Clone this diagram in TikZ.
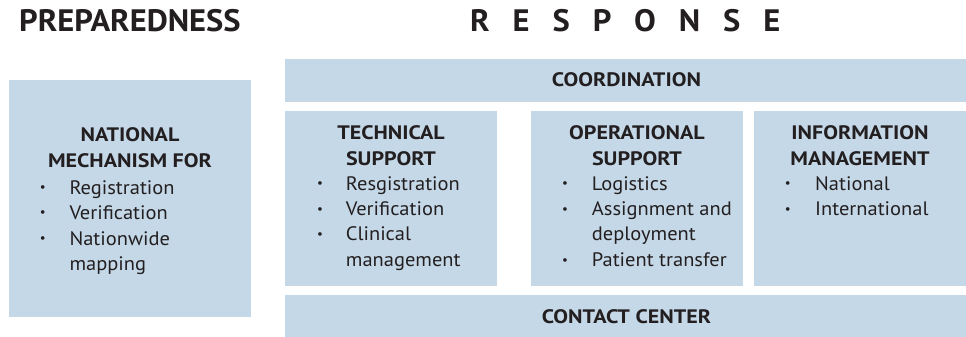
\documentclass[tikz,border=0pt]{standalone}
\usepackage{fontspec}
\setmainfont{PT Sans}
\newfontfamily\regfont{PT Sans}[FakeStretch=1.05]
\newfontfamily\ttlfont{PT Sans}[FakeStretch=1.13]
\newfontfamily\headfont{PT Sans}[FakeStretch=1.05]
\definecolor{boxblue}{RGB}{197,216,232}
\definecolor{ink}{RGB}{35,31,32}
\tikzset{
  box/.style={fill=boxblue, draw=none, inner sep=0pt, outer sep=0pt, anchor=north west},
  head/.style={font=\headfont\fontsize{31}{36}\selectfont\bfseries, text=ink, inner sep=0pt, anchor=base west},
  ttl/.style={font=\ttlfont\fontsize{19.5}{24}\selectfont\bfseries, text=ink, inner sep=0pt, anchor=base},
  item/.style={font=\regfont\fontsize{19.5}{24}\selectfont, text=ink, inner sep=0pt, anchor=base west},
  bul/.style={font=\fontsize{13}{14}\selectfont, text=ink, inner sep=0pt, anchor=center},
}
\begin{document}
\begin{tikzpicture}[x=1pt,y=-1pt]
\useasboundingbox (0,0) rectangle (966,337);
% headings
\node[head] (hprep) at (19,31.5) {PREPAREDNESS};
\node[head] (hresp) at (470,31.5) {\addfontfeature{LetterSpace=74}RESPONSE};
% boxes
\node[box, minimum width=242pt, minimum height=237pt] (prep) at (9,80) {};
\node[box, minimum width=681pt, minimum height=43pt] (coord) at (285,59) {};
\node[box, minimum width=212pt, minimum height=175pt] (tech) at (285,111) {};
\node[box, minimum width=212pt, minimum height=175pt] (oper) at (531,111) {};
\node[box, minimum width=212pt, minimum height=175pt] (info) at (754,111) {};
\node[box, minimum width=681pt, minimum height=42pt] (contact) at (285,295) {};
% coordination / contact
\node[ttl] (tcoord) at (626.5,86.7) {COORDINATION};
\node[ttl] (tcontact) at (626.5,323.3) {CONTACT CENTER};
% preparedness box
\node[ttl] (p1) at (130,141.7) {NATIONAL};
\node[ttl] (p2) at (130,167.3) {MECHANISM FOR};
\node[bul] (pb1) at (42.7,189) {•};
\node[item] (pi1) at (69.3,194) {Registration};
\node[bul] (pb2) at (42.7,214) {•};
\node[item] (pi2) at (69.3,219) {Verification};
\node[bul] (pb3) at (42.7,240) {•};
\node[item] (pi3) at (69.3,245) {Nationwide};
\node[item] (pi4) at (69.3,270) {mapping};
% technical
\node[ttl] (t1) at (391,139.3) {TECHNICAL};
\node[ttl] (t2) at (391,165) {SUPPORT};
\node[bul] (tb1) at (320,185) {•};
\node[item] (ti1) at (345.7,190) {Resgistration};
\node[bul] (tb2) at (320,210.7) {•};
\node[item] (ti2) at (345.7,215.7) {Verification};
\node[bul] (tb3) at (320,235.7) {•};
\node[item] (ti3) at (345.7,240.7) {Clinical};
\node[item] (ti4) at (345.7,266) {management};
% operational
\node[ttl] (o1) at (637,139.3) {OPERATIONAL};
\node[ttl] (o2) at (637,165) {SUPPORT};
\node[bul] (ob1) at (565,185) {•};
\node[item] (oi1) at (591.7,190) {Logistics};
\node[bul] (ob2) at (565,210.7) {•};
\node[item] (oi2) at (591.7,215.7) {Assignment and};
\node[item] (oi3) at (591.7,240.7) {deployment};
\node[bul] (ob3) at (565,261.7) {•};
\node[item] (oi4) at (591.7,266.7) {Patient transfer};
% information
\node[ttl] (i1) at (860,139.3) {INFORMATION};
\node[ttl] (i2) at (860,165) {MANAGEMENT};
\node[bul] (ib1) at (787.7,185) {•};
\node[item] (ii1) at (815,190) {National};
\node[bul] (ib2) at (787.7,210.7) {•};
\node[item] (ii2) at (815,215.7) {International};
\end{tikzpicture}
\end{document}
